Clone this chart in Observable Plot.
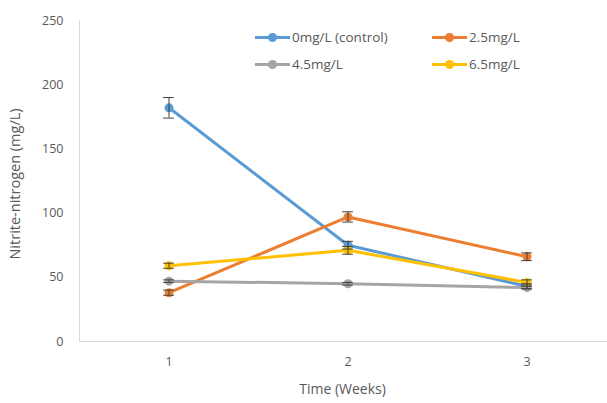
<!DOCTYPE html>
<html>
<head>
<meta charset="utf-8">
<script src="https://cdn.jsdelivr.net/npm/d3@7"></script>
<script src="https://cdn.jsdelivr.net/npm/@observablehq/plot@0.6"></script>
<style>
  html, body { margin: 0; padding: 0; background: #fff; }
  #wrap { position: relative; width: 607px; height: 403px; font-family: "Open Sans", "Liberation Sans", sans-serif; }
  #legend { position: absolute; left: 255px; top: 28px; display: grid; grid-template-columns: 177px 140px; row-gap: 9px; font-size: 13.5px; color: #595959; }
  .item { display: flex; align-items: center; height: 18px; }
  .sw { position: relative; width: 35px; height: 3px; margin-right: 2px; }
  .sw::after { content: ""; position: absolute; left: 13px; top: -3px; width: 9px; height: 9px; border-radius: 50%; background: inherit; }
</style>
</head>
<body>
<div id="wrap"></div>
<script>
const weeks = [1, 2, 3];
const seriesNames = ["0mg/L (control)", "2.5mg/L", "4.5mg/L", "6.5mg/L"];
const seriesColors = ["#5B9BD5", "#ED7D31", "#A5A5A5", "#FFC000"];
const control = [182, 75, 43];
const conc25 = [38, 97, 66];
const conc45 = [47, 45, 42];
const conc65 = [59, 71, 46];
const errControl = [8, 3, 2];
const err25 = [2, 4, 3];
const err45 = [1, 1, 1];
const err65 = [2, 3, 2];
const yTicks = [0, 50, 100, 150, 200, 250];

const values = [control, conc25, conc45, conc65];
const errs = [errControl, err25, err45, err65];
const data = [];
seriesNames.forEach((s, i) => weeks.forEach((w, j) => data.push({series: s, week: w, value: values[i][j], err: errs[i][j]})));

const color = {domain: seriesNames, range: seriesColors};
const cap = 0.03;

const chart = Plot.plot({
  width: 607,
  height: 403,
  marginLeft: 79,
  marginRight: 0,
  marginTop: 20,
  marginBottom: 62,
  style: {fontFamily: "'Open Sans', 'Liberation Sans', sans-serif", fontSize: "12px", color: "#595959", background: "#fff"},
  x: {domain: [0.5, 3.5], range: [79, 616]},
  y: {domain: [0, 250]},
  color,
  marks: [
    Plot.ruleY([0], {stroke: "#d9d9d9", strokeWidth: 1}),
    Plot.ruleX([0.5], {y1: 0, y2: 250, stroke: "#d9d9d9", strokeWidth: 1}),
    Plot.axisY({ticks: yTicks, tickSize: 0, tickPadding: 16, label: null, fill: "#595959", fontSize: 12.5}),
    Plot.axisX({ticks: weeks, tickSize: 0, tickPadding: 16, tickFormat: d3.format("d"), label: null, fill: "#595959", fontSize: 12.5}),
    Plot.text(["Nitrite-nitrogen (mg/L)"], {frameAnchor: "left", textAnchor: "middle", dx: -64, dy: 3, rotate: -90, fill: "#595959", fontSize: 14.5}),
    Plot.text(["Time (Weeks)"], {frameAnchor: "bottom", dx: -1, dy: 52, fill: "#595959", fontSize: 14}),
    Plot.line(data, {x: "week", y: "value", z: "series", stroke: "series", strokeWidth: 3}),
    Plot.dot(data, {x: "week", y: "value", fill: "series", r: 4.5}),
    Plot.ruleX(data, {x: "week", y1: d => d.value - d.err, y2: d => d.value + d.err, stroke: "#404040", strokeWidth: 1}),
    Plot.ruleY(data, {y: d => d.value + d.err, x1: d => d.week - cap, x2: d => d.week + cap, stroke: "#404040", strokeWidth: 1}),
    Plot.ruleY(data, {y: d => d.value - d.err, x1: d => d.week - cap, x2: d => d.week + cap, stroke: "#404040", strokeWidth: 1})
  ]
});

const wrap = document.getElementById("wrap");
wrap.appendChild(chart);
const legend = document.createElement("div");
legend.id = "legend";
seriesNames.forEach((s, i) => {
  const it = document.createElement("div");
  it.className = "item";
  const sw = document.createElement("span");
  sw.className = "sw";
  sw.style.background = seriesColors[i];
  const lab = document.createElement("span");
  lab.textContent = s;
  it.appendChild(sw);
  it.appendChild(lab);
  legend.appendChild(it);
});
wrap.appendChild(legend);
</script>
</body>
</html>
